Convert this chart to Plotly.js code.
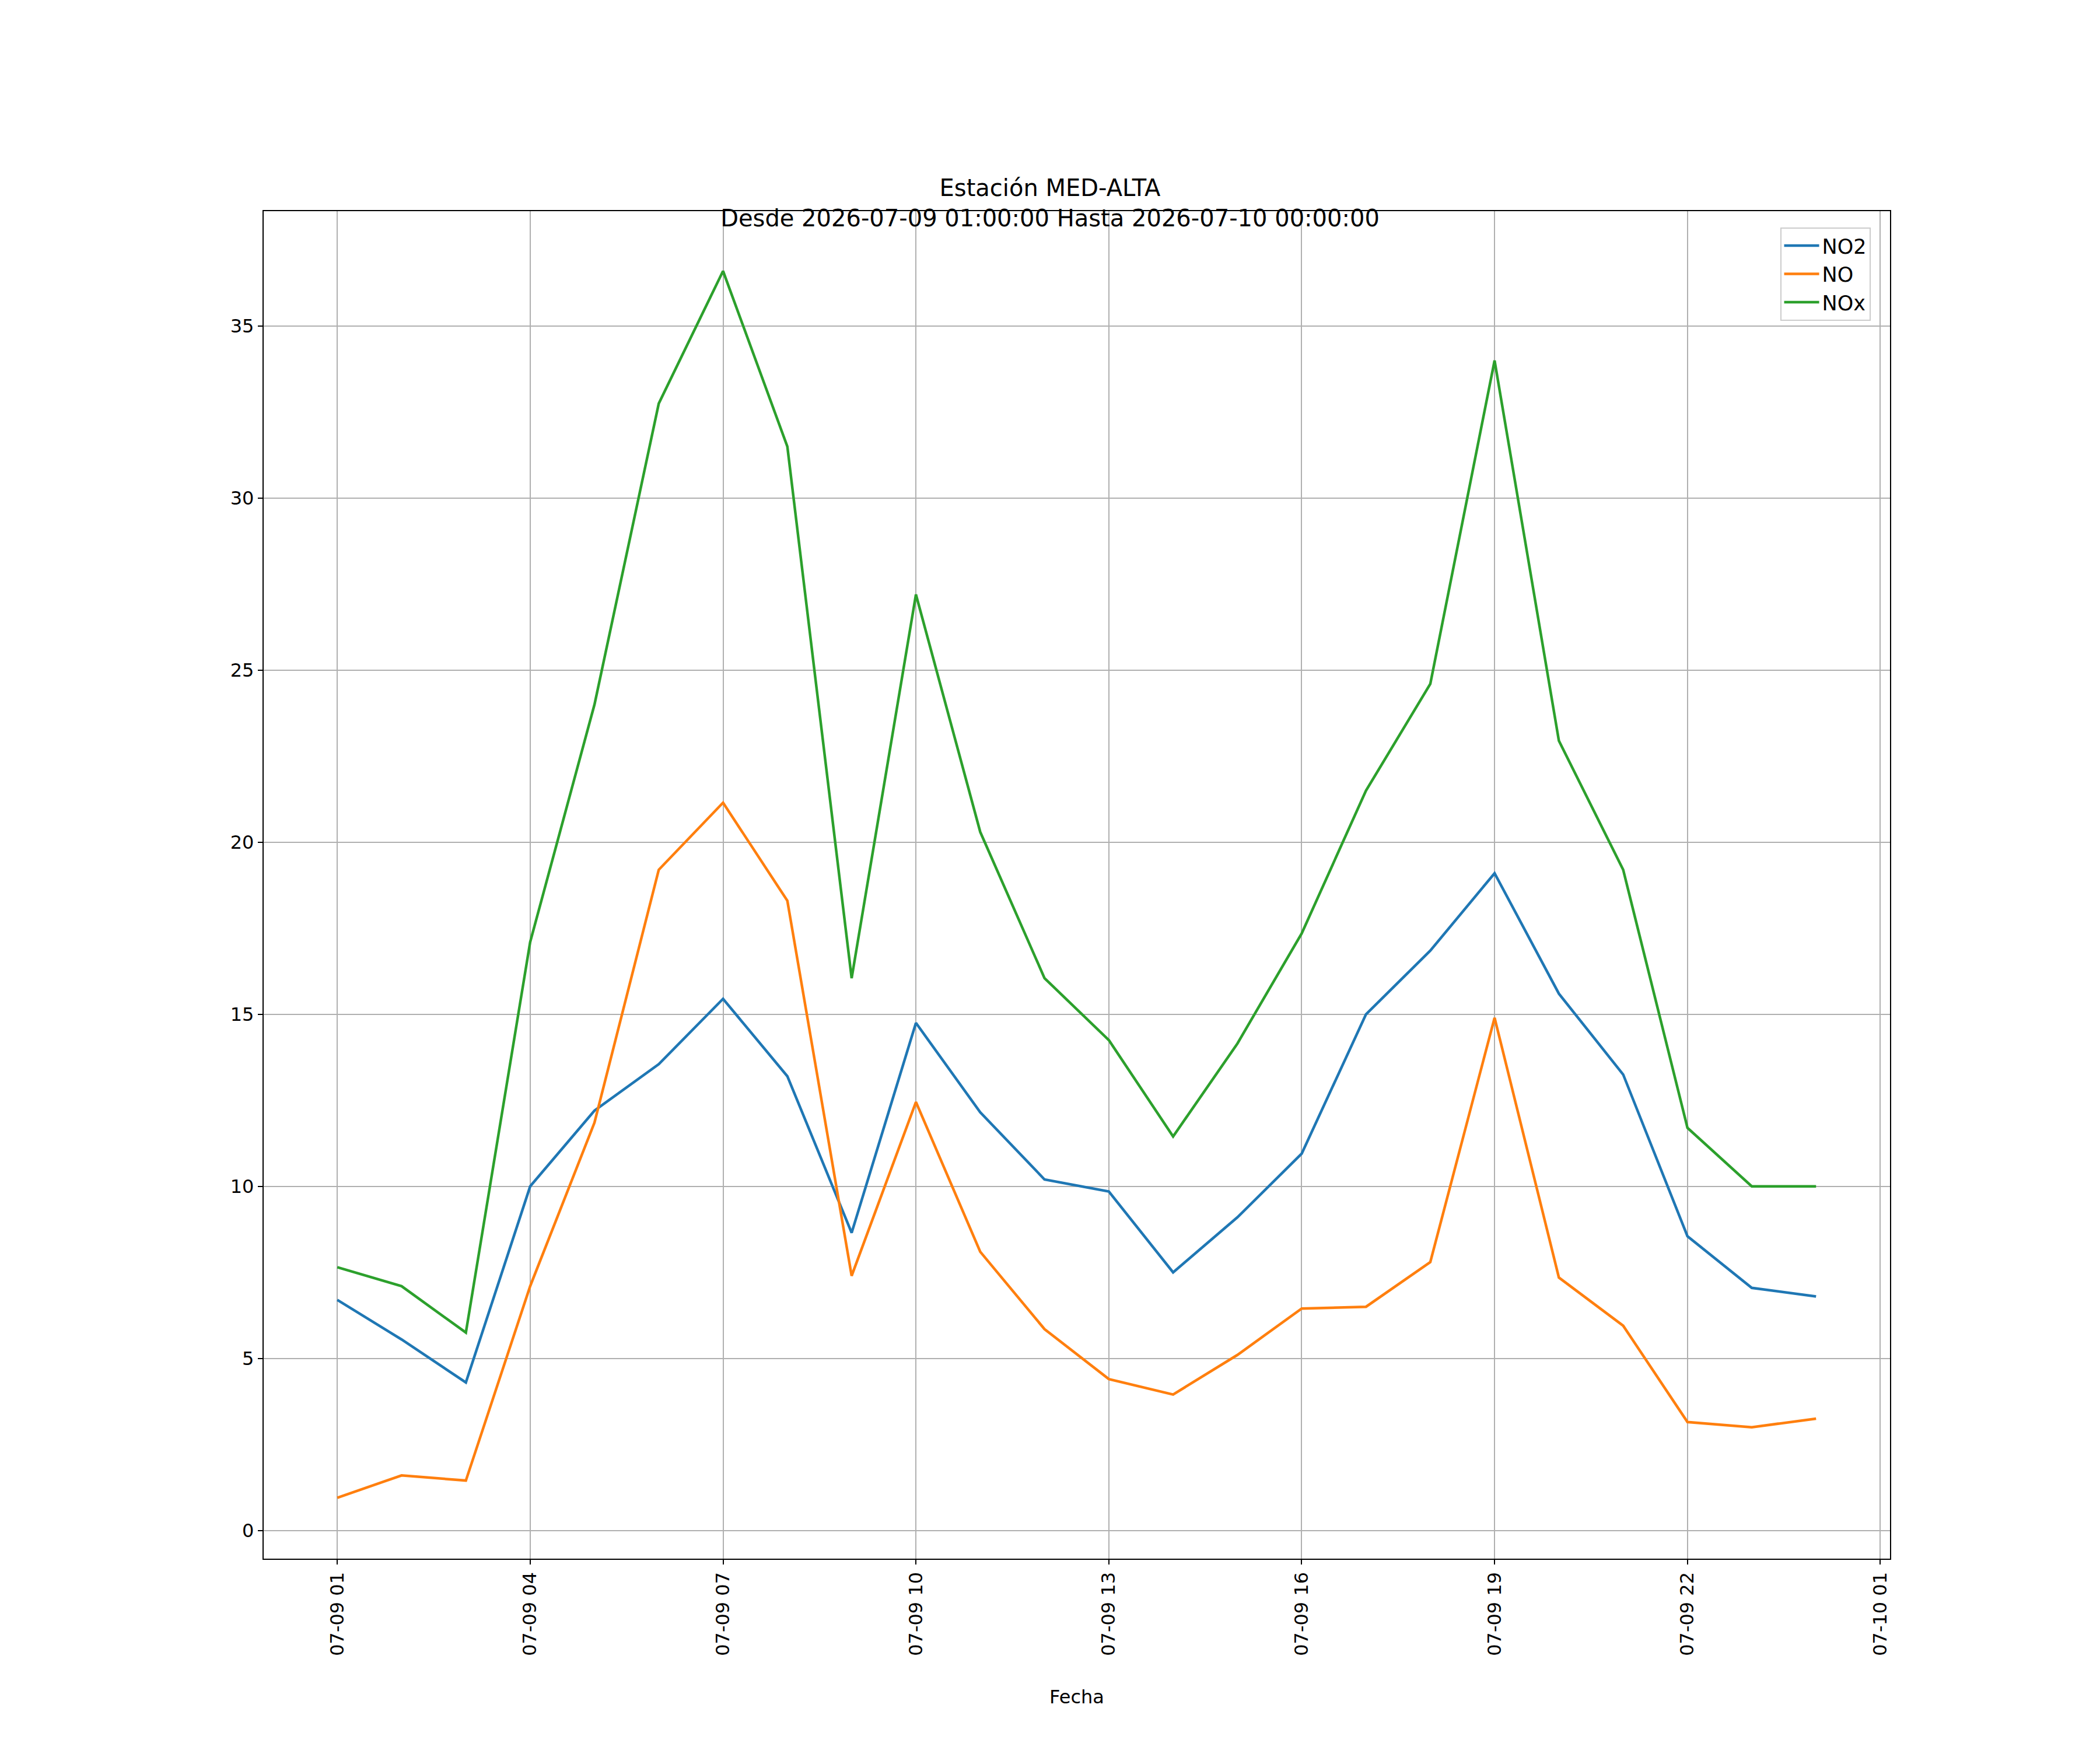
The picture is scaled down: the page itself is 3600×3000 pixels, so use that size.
<!DOCTYPE html>
<html>
<head>
<meta charset="utf-8">
<script src="https://cdn.plot.ly/plotly-3.0.1.min.js"></script>
<style>body{margin:0;background:#fff}#plot{width:3600px;height:3000px}</style>
</head>
<body>
<div id="plot"></div>
<script>
const hours = Array.from({ length: 24 }, (_, i) => {
  const d = new Date(Date.UTC(2026, 6, 9, 1 + i));
  return d.toISOString().slice(0, 19).replace("T", " ");
});
const no2 = [6.7, 5.55, 4.3, 10.0, 12.2, 13.55, 15.45, 13.2, 8.65, 14.75, 12.15, 10.2, 9.85, 7.5, 9.1, 10.95, 15.0, 16.85, 19.1, 15.6, 13.25, 8.55, 7.05, 6.8];
const no = [0.95, 1.6, 1.45, 7.1, 11.85, 19.2, 21.15, 18.3, 7.4, 12.45, 8.1, 5.85, 4.4, 3.95, 5.1, 6.45, 6.5, 7.8, 14.9, 7.35, 5.95, 3.15, 3.0, 3.25];
const nox = [7.65, 7.1, 5.75, 17.1, 24.0, 32.75, 36.6, 31.5, 16.05, 27.2, 20.3, 16.05, 14.25, 11.45, 14.15, 17.35, 21.5, 24.6, 34.0, 22.95, 19.2, 11.7, 10.0, 10.0];
const tickVals = ["2026-07-09 01:00", "2026-07-09 04:00", "2026-07-09 07:00", "2026-07-09 10:00", "2026-07-09 13:00", "2026-07-09 16:00", "2026-07-09 19:00", "2026-07-09 22:00", "2026-07-10 01:00"];
const tickText = ["07-09 01", "07-09 04", "07-09 07", "07-09 10", "07-09 13", "07-09 16", "07-09 19", "07-09 22", "07-10 01"];

const font = { family: "DejaVu Sans", color: "#000", size: 32 };
const series = [["NO2", no2, "#1f77b4"], ["NO", no, "#ff7f0e"], ["NOx", nox, "#2ca02c"]];
const traces = series.map(([name, y, color]) => ({
  x: hours, y, name, type: "scatter", mode: "lines",
  line: { color, width: 4.5 },
}));

const layout = {
  width: 3600, height: 3000,
  paper_bgcolor: "#fff", plot_bgcolor: "#fff",
  font,
  margin: { l: 452, r: 360, t: 362, b: 328 },
  title: {
    text: "Estación MED-ALTA<br>Desde 2026-07-09 01:00:00 Hasta 2026-07-10 00:00:00",
    font: { family: "DejaVu Sans", size: 40, color: "#000" },
    x: 0.5, xanchor: "center", y: 0.888, yanchor: "bottom",
  },
  xaxis: {
    type: "date",
    range: ["2026-07-08 23:51:18", "2026-07-10 01:09:00"],
    tickvals: tickVals, ticktext: tickText, tickangle: -90,
    showgrid: true, gridcolor: "#b0b0b0", gridwidth: 2,
    zeroline: false, showline: true, mirror: true, linecolor: "#000", linewidth: 2.3,
    ticks: "outside", ticklen: 8, tickwidth: 2, tickcolor: "#000",
    title: { text: "Fecha", font: { family: "DejaVu Sans", size: 32, color: "#000" }, standoff: 60 },
  },
  yaxis: {
    range: [-0.82, 38.34],
    tickvals: [0, 5, 10, 15, 20, 25, 30, 35],
    showgrid: true, gridcolor: "#b0b0b0", gridwidth: 2,
    zeroline: false, showline: true, mirror: true, linecolor: "#000", linewidth: 2.3,
    ticks: "outside", ticklen: 8, tickwidth: 2, tickcolor: "#000",
  },
  showlegend: true,
  legend: {
    x: 0.988, y: 0.988, xanchor: "right", yanchor: "top",
    bgcolor: "rgba(255,255,255,0.8)", bordercolor: "#ccc", borderwidth: 2,
    itemwidth: 60, tracegroupgap: 6,
    font: { family: "DejaVu Sans", size: 35, color: "#000" },
  },
};

Plotly.newPlot("plot", traces, layout, { displayModeBar: false });
</script>
</body>
</html>
